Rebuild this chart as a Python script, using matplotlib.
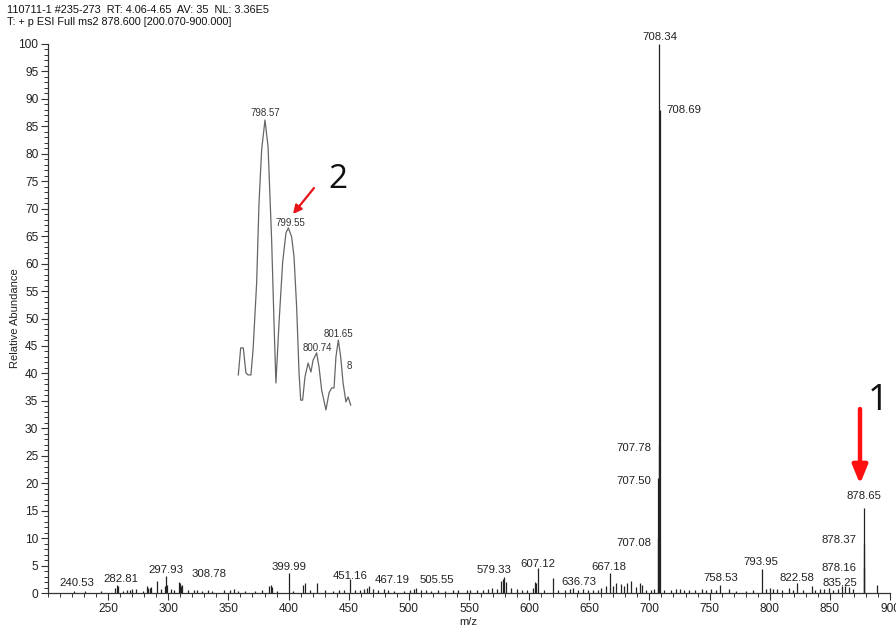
import matplotlib
matplotlib.use("Agg")
import matplotlib.pyplot as plt
import numpy as np
from matplotlib.ticker import MultipleLocator

plt.rcParams['font.family'] = ['Liberation Sans', 'DejaVu Sans']

# ---- data ----
header1 = "110711-1 #235-273  RT: 4.06-4.65  AV: 35  NL: 3.36E5"
header2 = "T: + p ESI Full ms2 878.600 [200.070-900.000]"

peak_mz = [222, 231, 244, 256, 257, 258, 262, 266, 268, 270, 273, 279, 282, 283, 285, 286,
           290.5, 294, 297, 297.93, 299, 302, 305, 308.78, 309.5, 310.5, 311.5, 316, 321, 324,
           328, 333, 336, 346, 351, 355, 358, 364, 372, 378, 384, 385, 386, 390, 399.99, 404,
           412, 413.5, 418, 424, 430, 437, 442, 446, 451.16, 455, 459, 463, 465, 467.19, 470,
           474, 479, 483, 488, 496, 501, 504, 505.55, 510, 514, 518, 524, 530, 537, 541, 548,
           551, 557, 562, 566, 569, 573, 577, 578.5, 579.33, 581, 585, 590, 594, 598, 603, 605,
           606, 607.12, 612, 619.5, 624, 630, 634, 636.73, 641, 645, 649, 653, 657, 660, 664,
           667.18, 670, 672.6, 676, 679, 681, 685, 689, 692, 693.5, 697, 701, 704,
           707.08, 707.50, 707.78, 708.34, 708.69,
           712, 718, 722, 725, 729, 733, 738, 744, 747, 751, 755, 758.53, 766, 772, 780, 786,
           793.95, 797, 800, 803, 806, 810, 816, 819, 822.58, 828, 835.25, 838, 842, 845, 849,
           853, 857, 860, 863, 866, 869, 878.16, 878.37, 878.65, 889]
peak_int = [0.3, 0.3, 0.4, 1.0, 1.4, 1.2, 0.4, 0.6, 0.5, 0.7, 0.8, 0.4, 1.3, 1.0, 0.9, 1.1,
            2.1, 0.8, 1.2, 3.1, 1.4, 0.8, 0.6, 2.0, 1.8, 1.3, 1.5, 0.5, 0.5, 0.6,
            0.4, 0.5, 0.4, 0.6, 0.5, 0.7, 0.4, 0.3, 0.4, 0.5, 1.2, 1.5, 1.1, 0.4, 3.6, 0.4,
            1.4, 1.8, 0.5, 1.8, 0.5, 0.4, 0.5, 0.6, 2.5, 0.6, 0.5, 0.7, 1.0, 1.2, 0.8,
            0.6, 0.7, 0.5, 0.4, 0.4, 0.6, 0.8, 1.0, 0.6, 0.5, 0.4, 0.5, 0.4, 0.6, 0.5, 0.5,
            0.6, 0.5, 0.6, 0.7, 0.9, 0.8, 2.2, 2.6, 2.9, 2.0, 1.0, 0.8, 0.6, 0.6, 1.0, 2.0,
            1.8, 4.6, 0.6, 2.8, 0.6, 0.5, 0.7, 0.9, 0.6, 0.7, 0.6, 0.5, 0.6, 1.0, 1.2,
            3.6, 1.2, 1.8, 1.6, 1.2, 1.8, 2.2, 1.1, 1.8, 1.4, 0.6, 0.6, 0.8,
            10.0, 21.0, 27.0, 100.0, 88.0,
            0.6, 0.5, 0.8, 0.7, 0.6, 0.6, 0.5, 0.7, 0.6, 0.7, 0.5, 1.5, 0.8, 0.4, 0.4, 0.5,
            4.4, 0.8, 0.9, 0.7, 0.8, 0.6, 1.0, 0.6, 1.9, 0.5, 1.3, 0.6, 0.7, 0.8, 0.9,
            0.6, 0.7, 1.2, 1.3, 1.1, 0.7, 4.5, 9.0, 15.5, 1.4]

label_text = ["240.53", "282.81", "297.93", "308.78", "399.99", "451.16", "467.19", "505.55",
              "579.33", "607.12", "636.73", "667.18", "707.08", "707.50", "707.78", "708.34",
              "708.69", "758.53", "793.95", "822.58", "835.25", "878.16", "878.37", "878.65"]
label_x = [224, 261, 298, 334, 400, 451, 486, 523, 571, 607, 641, 666, 687.4, 687.4, 687.4,
           709, 729, 759, 793, 823, 858, 858, 858, 878]
label_y = [1.8, 2.55, 4.2, 3.5, 4.7, 3.1, 2.4, 2.4, 4.2, 5.3, 2.0, 4.7, 9.1, 20.4, 26.4,
           101.3, 88.0, 2.7, 5.6, 2.7, 1.8, 4.5, 9.6, 17.7]

# inset profile (zoom of m/z 797.4-802.2)
inset_mz = [797.45, 797.55, 797.66, 797.77, 797.86, 797.98, 798.07, 798.22, 798.32, 798.43,
            798.57, 798.70, 798.85, 798.95, 799.03, 799.16, 799.31, 799.45, 799.55, 799.69,
            799.79, 799.90, 800.00, 800.07, 800.15, 800.25, 800.38, 800.50, 800.59, 800.74,
            800.84, 800.95, 801.13, 801.26, 801.37, 801.47, 801.55, 801.65, 801.75, 801.85,
            801.97, 802.06, 802.17]
inset_int = [12.1, 21.4, 21.4, 12.8, 12.1, 12.1, 20.7, 43.8, 71.4, 89.7,
             100.0, 90.7, 58.6, 30.0, 9.3, 30.0, 50.7, 61.0, 62.8, 59.7,
             52.8, 35.5, 12.8, 3.4, 3.4, 11.4, 16.2, 13.1, 17.2, 19.7,
             14.8, 6.9, 0.0, 5.9, 7.6, 7.6, 18.3, 24.1, 18.3, 9.3,
             2.8, 4.5, 1.7]
inset_labels = ["798.57", "799.55", "800.74", "801.65", "8"]
inset_label_x = [798.57, 799.62, 800.755, 801.64, 802.10]
inset_label_y = [102.4, 64.5, 21.4, 26.2, 15.2]

# ---- figure ----
W, H = 896, 630
fig = plt.figure(figsize=(W / 100, H / 100), dpi=100)
x0, x1, y0, y1 = 48, 890, 593, 44
ax = fig.add_axes([x0 / W, 1 - y0 / H, (x1 - x0) / W, (y0 - y1) / H])
ax.set_xlim(200, 900)
ax.set_ylim(0, 100)
ax.vlines(peak_mz, 0, peak_int, colors='#222222', linewidth=0.9)
for s in ['top', 'right']:
    ax.spines[s].set_visible(False)
for s in ['left', 'bottom']:
    ax.spines[s].set_linewidth(0.9)
    ax.spines[s].set_color('#333333')
ax.xaxis.set_minor_locator(MultipleLocator(10))
ax.yaxis.set_major_locator(MultipleLocator(5))
ax.yaxis.set_minor_locator(MultipleLocator(1))
ax.set_xticks(np.arange(250, 901, 50))
ax.tick_params(axis='both', which='major', length=5, width=0.8, color='#333333',
               labelsize=8.6, labelcolor='#222222', pad=2)
ax.tick_params(axis='both', which='minor', length=3, width=0.7, color='#333333')
ax.set_xlabel("m/z", fontsize=8, color='#222222')
ax.set_ylabel("Relative Abundance", fontsize=8, color='#222222')
ax.xaxis.set_label_coords((468 - x0) / (x1 - x0), -(622 - y0) / (y0 - y1))
ax.yaxis.set_label_coords(-(x0 - 15) / (x1 - x0), (y0 - 318) / (y0 - y1))
ax.xaxis.label.set_va('center')
ax.yaxis.label.set_va('center')

for t, lx, ly in zip(label_text, label_x, label_y):
    ax.text(lx, ly, t, fontsize=8.2, ha='center', va='center', color='#222222', clip_on=False)

fig.text(7 / W, 1 - 10 / H, header1, fontsize=7.8, ha='left', va='center', color='#111111')
fig.text(7 / W, 1 - 22 / H, header2, fontsize=7.8, ha='left', va='center', color='#111111')

# inset
ix0, ix1, iy0, iy1 = 238.3, 350.7, 410, 120
axi = fig.add_axes([ix0 / W, 1 - iy0 / H, (ix1 - ix0) / W, (iy0 - iy1) / H])
axi.set_xlim(797.45, 802.17)
axi.set_ylim(0, 100)
axi.axis('off')
axi.patch.set_alpha(0)
axi.plot(inset_mz, inset_int, color='#666666', linewidth=0.9, clip_on=False)
for t, lx, ly in zip(inset_labels, inset_label_x, inset_label_y):
    axi.text(lx, ly, t, fontsize=7, ha='center', va='center', color='#333333', clip_on=False)

# red arrows and numbers
ax_over = fig.add_axes([0, 0, 1, 1])
ax_over.set_xlim(0, W)
ax_over.set_ylim(H, 0)
ax_over.axis('off')
ax_over.patch.set_alpha(0)
ax_over.annotate("", xy=(293, 214), xytext=(314, 188),
                 arrowprops=dict(arrowstyle='-|>,head_length=0.5,head_width=0.25',
                                 color='#e8141a', lw=1.6, shrinkA=0, shrinkB=0))
ax_over.annotate("", xy=(860, 484), xytext=(860, 409),
                 arrowprops=dict(arrowstyle='-|>,head_length=1.1,head_width=0.45',
                                 color='#ff1010', lw=3.2, shrinkA=0, shrinkB=0))
ax_over.text(338, 179, "2", fontsize=24, family=['Open Sans', 'DejaVu Sans'],
             ha='center', va='center', color='#111111')
ax_over.text(878, 401, "1", fontsize=26, family=['Open Sans', 'DejaVu Sans'],
             ha='center', va='center', color='#111111')

fig.savefig("out.png", dpi=100)
